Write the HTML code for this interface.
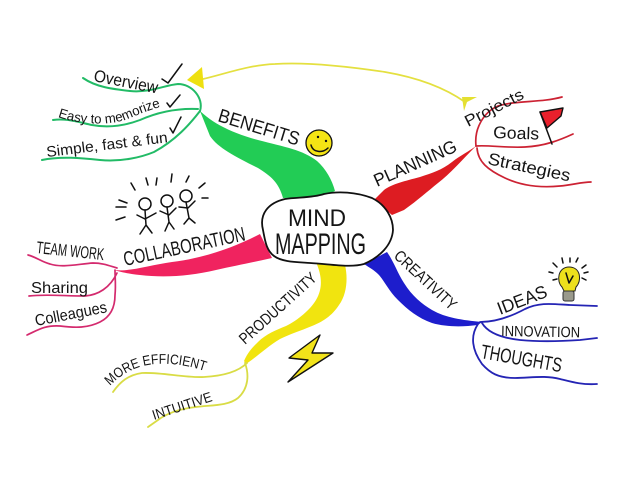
<!DOCTYPE html>
<html><head><meta charset="utf-8"><style>
html,body{margin:0;padding:0;background:#fff}
svg{display:block;filter:blur(.35px)}
text{font-family:"Liberation Sans",sans-serif;fill:#151515}
.l{fill:none;stroke-linecap:round;stroke-linejoin:round}
.k{fill:none;stroke:#111;stroke-width:1.5;stroke-linecap:round;stroke-linejoin:round}
</style></head><body>
<svg width="640" height="482" viewBox="0 0 640 482" xmlns="http://www.w3.org/2000/svg">
<rect width="640" height="482" fill="#fff"/>

<!-- main branches -->
<path fill="#22cc55" d="M200 111C214 124 232 133 258 140C285 147 303 150 317 161C326 169 332 180 335 191L322 197L283 198C279 183 271 176 258 168C236 157 218 148 210 136Z"/>
<path fill="#dd1c22" d="M476 146C468 152 461 155 452 162C442 170 432 173 420 177C405 181 392 184 384 190L374 200L392 215L404 210C418 200 428 191 438 183C450 174 462 160 476 146Z"/>
<path fill="#f0235f" d="M114 270C130 272 150 265 172 262C205 258 235 247 260 234L272 258C250 263 234 266 216 270C190 276 165 278 140 275C130 274 120 272 114 270Z"/>
<path fill="#f1e40f" d="M316 262L345 265C348 278 347 294 339 305C332 316 322 322 312 326C300 331 290 334 280 339C268 346 258 356 246 364L244 361C248 352 252 348 258 342C266 334 276 330 286 326C298 320 310 310 316 300C323 288 322 276 316 262Z"/>
<path fill="#1d1dcc" d="M364 264L387 252C394 262 398 274 404 283C412 296 422 304 432 310C446 318 462 320 482 322L478 325C462 327 446 327 432 323C418 318 408 310 398 300C388 290 384 280 378 274C374 270 370 268 364 264Z"/>

<!-- green sub-branches -->
<g class="l" stroke="#22bb66" stroke-width="2">
<path d="M83 78C96 87 112 89 130 91C150 93 165 85 178 84C192 84 204 98 200 111"/>
<path d="M53 120C66 118 78 122 92 125C108 128 124 126 140 120C158 112 176 108 198 109"/>
<path d="M42 160C60 156 82 158 100 160C122 162 142 157 154 152C176 140 190 124 200 111"/>
</g>
<!-- red sub-branches -->
<g class="l" stroke="#cc2233" stroke-width="1.7">
<path d="M476 146C474 128 484 112 498 106C518 100 540 103 562 97"/>
<path d="M476 146C490 145 505 148 525 147C545 146 560 140 573 134"/>
<path d="M477 148C478 162 488 170 505 178C522 186 540 188 560 186C572 185 582 182 591 182"/>
</g>
<!-- pink sub-branches -->
<g class="l" stroke="#d42a6e" stroke-width="1.7">
<path d="M28 255C36 257 42 262 50 264C62 268 78 264 93 263C103 263 110 266 117 268"/>
<path d="M29 296C45 294 65 296 85 296C98 295 110 288 117 273"/>
<path d="M27 335C38 330 45 325 60 326C76 328 88 328 100 322C112 316 115 305 115 295C116 285 115 278 115 270"/>
</g>
<!-- yellow sub-branches -->
<g class="l" stroke="#d9dc45" stroke-width="1.8">
<path d="M247 363C238 372 222 376 204 377C184 378 162 372 142 373C128 375 120 382 113 392"/>
<path d="M245 363C249 374 249 388 238 398C228 406 212 405 196 407C178 409 166 414 158 420L148 427"/>
</g>
<!-- blue sub-branches -->
<g class="l" stroke="#2424b4" stroke-width="1.8">
<path d="M480 322C496 322 512 316 525 309C540 302 552 304 570 305L597 306"/>
<path d="M482 323C488 333 502 338 520 340C540 342 565 341 580 340L597 338"/>
<path d="M478 324C470 336 472 350 482 364C490 373 498 378 515 378C530 378 545 375 560 379C572 382 582 385 597 384"/>
</g>

<!-- yellow arrow -->
<path class="l" stroke="#e4e040" stroke-width="1.7" d="M203 79C225 74 248 65 275 64C305 62 345 66 385 72C420 78 445 88 465 102"/>
<path fill="#eee010" d="M187 80L202 67L204 89Z"/>
<path fill="#e4e030" d="M462 97L477 97L467 102L464 111Z"/>

<!-- central bubble -->
<path fill="#fff" stroke="#111" stroke-width="1.8" stroke-linejoin="round" d="M263 230C259 214 268 203 285 199C298 197 312 198 324 194C338 191 356 192 372 198C386 205 393 218 393 230C392 245 380 257 364 264C350 268 330 264 310 263C296 262 282 262 274 256C266 250 265 240 263 230Z"/>
<text x="288" y="226" font-size="24" textLength="58" lengthAdjust="spacingAndGlyphs">MIND</text>
<text x="275" y="254" font-size="30" textLength="91" lengthAdjust="spacingAndGlyphs">MAPPING</text>

<!-- labels -->
<text transform="translate(93 81) rotate(11)" font-size="17" textLength="65" lengthAdjust="spacingAndGlyphs">Overview</text>
<path class="k" d="M162 79L168 83L182 64"/>
<defs><path id="ea" d="M58 117C80 125 112 126 130 118C142 113 152 109 164 106"/></defs>
<text font-size="13.5"><textPath href="#ea" textLength="106" lengthAdjust="spacingAndGlyphs">Easy to memorize</textPath></text>
<path class="k" d="M167 103L170 107L180 95"/>
<text transform="translate(47 157) rotate(-7)" font-size="15" textLength="122" lengthAdjust="spacingAndGlyphs">Simple, fast &amp; fun</text>
<path class="k" d="M170 128L173 133L181 117"/>
<text transform="translate(217 121) rotate(17)" font-size="19" textLength="84" lengthAdjust="spacingAndGlyphs">BENEFITS</text>

<!-- smiley -->
<circle cx="319" cy="143" r="13" fill="#f4e414" stroke="#111" stroke-width="1.3"/>
<circle cx="318" cy="137" r="1.2" fill="#111"/><circle cx="326" cy="141" r="1.2" fill="#111"/>
<path class="k" d="M311 145C313 153 323 153 328 148" stroke-width="1.2"/>

<!-- stick figures -->
<g class="k">
<circle cx="145" cy="204" r="6"/><circle cx="167" cy="201" r="6"/><circle cx="186" cy="196" r="6"/>
<path d="M145 210L146 225M137 215L145 219L156 213M146 225L140 234M146 225L152 233"/>
<path d="M167 207L169 222M160 211L169 215L176 208M169 222L165 231M169 222L174 229"/>
<path d="M186 202L189 218M179 207L188 208L195 201M189 218L184 224M189 218L195 223"/>
<path d="M119 200L127 203M116 207L126 207M116 220L125 217M131 183L135 190M146 178L148 185M157 178L156 185M172 174L171 182M189 176L186 182M205 183L199 188M208 198L202 198"/>
</g>

<text transform="translate(125 266) rotate(-12)" font-size="20" textLength="124" lengthAdjust="spacingAndGlyphs">COLLABORATION</text>
<text transform="translate(36 253) rotate(6)" font-size="17" textLength="68" lengthAdjust="spacingAndGlyphs">TEAM WORK</text>
<text x="31" y="293" font-size="16" textLength="57" lengthAdjust="spacingAndGlyphs">Sharing</text>
<text transform="translate(36 326) rotate(-11)" font-size="16" textLength="73" lengthAdjust="spacingAndGlyphs">Colleagues</text>

<text transform="translate(245 345) rotate(-42)" font-size="16" textLength="98" lengthAdjust="spacingAndGlyphs">PRODUCTIVITY</text>
<defs><path id="me" d="M110 386C125 370 145 362 170 364C185 365 196 368 208 372"/></defs>
<text font-size="14"><textPath href="#me" textLength="102" lengthAdjust="spacingAndGlyphs">MORE EFFICIENT</textPath></text>
<text transform="translate(154 420) rotate(-18)" font-size="14" textLength="62" lengthAdjust="spacingAndGlyphs">INTUITIVE</text>

<!-- bolt -->
<path fill="#f2e31a" stroke="#111" stroke-width="1.4" stroke-linejoin="round" d="M320 335L289 358L308 360L288 382L333 353L312 353Z"/>

<text transform="translate(377 187) rotate(-24)" font-size="18" textLength="89" lengthAdjust="spacingAndGlyphs">PLANNING</text>
<text transform="translate(468 127) rotate(-27)" font-size="16" textLength="64" lengthAdjust="spacingAndGlyphs">Projects</text>
<text transform="translate(493 138) rotate(2)" font-size="17" textLength="46" lengthAdjust="spacingAndGlyphs">Goals</text>
<path fill="#e9202c" stroke="#111" stroke-width="1.4" stroke-linejoin="round" d="M540 112L563 108L561 116L547 128Z"/>
<path class="k" d="M540 112L552 144" stroke-width="1.8"/>
<text transform="translate(487 164) rotate(12)" font-size="17" textLength="84" lengthAdjust="spacingAndGlyphs">Strategies</text>

<text transform="translate(393 257) rotate(43)" font-size="16" textLength="79" lengthAdjust="spacingAndGlyphs">CREATIVITY</text>
<text transform="translate(500 315) rotate(-21)" font-size="18" textLength="52" lengthAdjust="spacingAndGlyphs">IDEAS</text>
<text transform="translate(501 336) rotate(1)" font-size="15" textLength="79" lengthAdjust="spacingAndGlyphs">INNOVATION</text>
<text transform="translate(480 358) rotate(10)" font-size="20" textLength="82" lengthAdjust="spacingAndGlyphs">THOUGHTS</text>

<!-- bulb -->
<path d="M562 287C556 281 558 267 569 267C581 267 582 281 576 287L575 291L564 291Z" fill="#ede01c" stroke="#222" stroke-width="1"/>
<rect x="563" y="291" width="11" height="10" rx="2" fill="#9a9a8c" stroke="#333" stroke-width="1"/>
<path class="k" d="M566 273L569 283L573 276" stroke-width="1"/>
<path class="k" stroke-width="1" d="M549 272L553 273M553 263L557 267M562 258L563 263M570 258L570 262M578 258L576 262M586 265L582 268M588 272L584 273M586 280L582 278M553 280L557 279"/>
</svg>
</body></html>
